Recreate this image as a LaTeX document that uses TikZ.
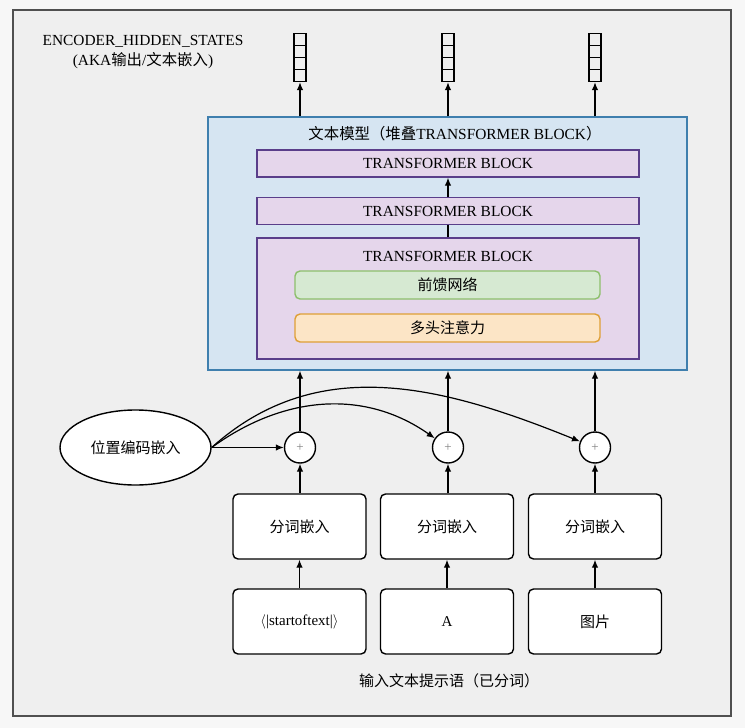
\documentclass[tikz,border=0pt]{standalone}
\usepackage{fontspec}
\setmainfont{Liberation Serif}
\newfontfamily\cjk{Noto Sans CJK SC}
\usetikzlibrary{arrows.meta,shapes.geometric,calc}
\definecolor{outerbg}{HTML}{F7F7F7}
\definecolor{framebg}{HTML}{EFEFEF}
\definecolor{frameline}{HTML}{505050}
\definecolor{modelfill}{HTML}{D6E5F2}
\definecolor{modelline}{HTML}{3F7FAE}
\definecolor{tbfill}{HTML}{E5D6EB}
\definecolor{tbline}{HTML}{5A3E8A}
\definecolor{ffnfill}{HTML}{D6E9D2}
\definecolor{ffnline}{HTML}{8DBF6C}
\definecolor{attfill}{HTML}{FCE5C6}
\definecolor{attline}{HTML}{DE9F36}
\tikzset{
  arr/.style={line width=1.2pt, -{Latex[length=8pt,width=6.5pt]}},
  plainline/.style={line width=1.2pt},
  stack/.style={draw, line width=1.4pt, minimum width=12pt, minimum height=48pt, inner sep=0pt,
    path picture={\foreach \t in {0.25,0.5,0.75}
      \draw[line width=1.4pt] ($(path picture bounding box.north west)!\t!(path picture bounding box.south west)$) -- ($(path picture bounding box.north east)!\t!(path picture bounding box.south east)$);}},
  modelbox/.style={draw=modelline, fill=modelfill, line width=1.4pt, minimum width=479pt, minimum height=253pt, inner sep=0pt},
  tbbox/.style={draw=tbline, fill=tbfill, line width=1.4pt, minimum width=382pt, inner sep=0pt, font=\fontsize{15.4}{17}\selectfont},
  ffnbox/.style={draw=ffnline, fill=ffnfill, line width=1.4pt, rounded corners=5pt, minimum width=305pt, minimum height=28pt, inner sep=0pt, font=\fontsize{15}{17}\selectfont\cjk},
  attbox/.style={draw=attline, fill=attfill, line width=1.4pt, rounded corners=5pt, minimum width=305pt, minimum height=28pt, inner sep=0pt, font=\fontsize{15}{17}\selectfont\cjk},
  plusnode/.style={draw, fill=white, circle, line width=1.4pt, minimum size=31pt, inner sep=0pt, text=gray, font=\fontsize{13}{13}\selectfont},
  embbox/.style={draw, fill=white, rounded corners=5pt, line width=1.4pt, minimum width=133pt, minimum height=65pt, inner sep=0pt, font=\fontsize{15}{17}\selectfont},
  posell/.style={draw, fill=white, ellipse, line width=1.4pt, minimum width=151pt, minimum height=75pt, inner sep=0pt, font=\fontsize{15}{17}\selectfont\cjk},
  lbl/.style={font=\fontsize{15.4}{19.5}\selectfont, align=center, inner sep=0pt}
}
\begin{document}
\begin{tikzpicture}[x=1pt,y=-1pt]
\useasboundingbox (0,0) rectangle (745,728);
\fill[outerbg] (0,0) rectangle (745,728);
\draw[frameline, fill=framebg, line width=2.2pt] (13,10) rectangle (731,716);

\node[lbl] (enc) at (143,52) {ENCODER\_HIDDEN\_STATES\\(AKA{\cjk 输出}/{\cjk 文本嵌入})};

\node[stack] (s1) at (300,57.5) {};
\node[stack] (s2) at (448,57.5) {};
\node[stack] (s3) at (595,57.5) {};

\node[modelbox] (model) at (447.5,243.5) {};
\node[lbl] (mtitle) at (455,134) {{\cjk 文本模型（堆叠}TRANSFORMER BLOCK{\cjk ）}};
\node[tbbox, minimum height=27pt] (tb1) at (448,163.5) {TRANSFORMER BLOCK};
\node[tbbox, minimum height=27pt] (tb2) at (448,211) {TRANSFORMER BLOCK};
\node[tbbox, minimum height=121pt] (tb3) at (448,298.5) {};
\node[font=\fontsize{15.4}{17}\selectfont, inner sep=0pt] (tb3t) at (448,256) {TRANSFORMER BLOCK};
\node[ffnbox] (ffn) at (447.5,285) {前馈网络};
\node[attbox] (att) at (447.5,328) {多头注意力};

\draw[arr] (tb2.north) -- (tb1.south);
\draw[plainline] (tb3.north) -- (tb2.south);
\draw[arr] (model.north -| s1) -- (s1.south);
\draw[arr] (model.north -| s2) -- (s2.south);
\draw[arr] (model.north -| s3) -- (s3.south);

\node[posell] (pos) at (135.5,447.5) {位置编码嵌入};
\node[plusnode] (p1) at (300,447.5) {+};
\node[plusnode] (p2) at (448,447.5) {+};
\node[plusnode] (p3) at (595,447.5) {+};

\draw[arr] (p1.north) -- (p1.north |- model.south);
\draw[arr] (p2.north) -- (p2.north |- model.south);
\draw[arr] (p3.north) -- (p3.north |- model.south);

\draw[arr] (pos.east) -- (p1.west);
\draw[arr] (pos.east) to[out=36, in=145] (p2);
\draw[arr] (pos.east) to[out=42, in=158] (p3);

\node[embbox] (e1) at (299.5,526.5) {\cjk 分词嵌入};
\node[embbox] (e2) at (447,526.5) {\cjk 分词嵌入};
\node[embbox] (e3) at (595,526.5) {\cjk 分词嵌入};
\node[embbox] (t1) at (299.5,621.5) {$\langle$|startoftext|$\rangle$};
\node[embbox] (t2) at (447,621.5) {A};
\node[embbox] (t3) at (595,621.5) {\cjk 图片};

\draw[arr] (t1.north) -- (e1.south);
\draw[arr] (t2.north) -- (e2.south);
\draw[arr] (t3.north) -- (e3.south);
\draw[arr] (e1.north -| p1) -- (p1.south);
\draw[arr] (e2.north -| p2) -- (p2.south);
\draw[arr] (e3.north -| p3) -- (p3.south);

\node[lbl, font=\fontsize{15}{17}\selectfont\cjk] (inp) at (449,681) {输入文本提示语（已分词）};
\end{tikzpicture}
\end{document}
